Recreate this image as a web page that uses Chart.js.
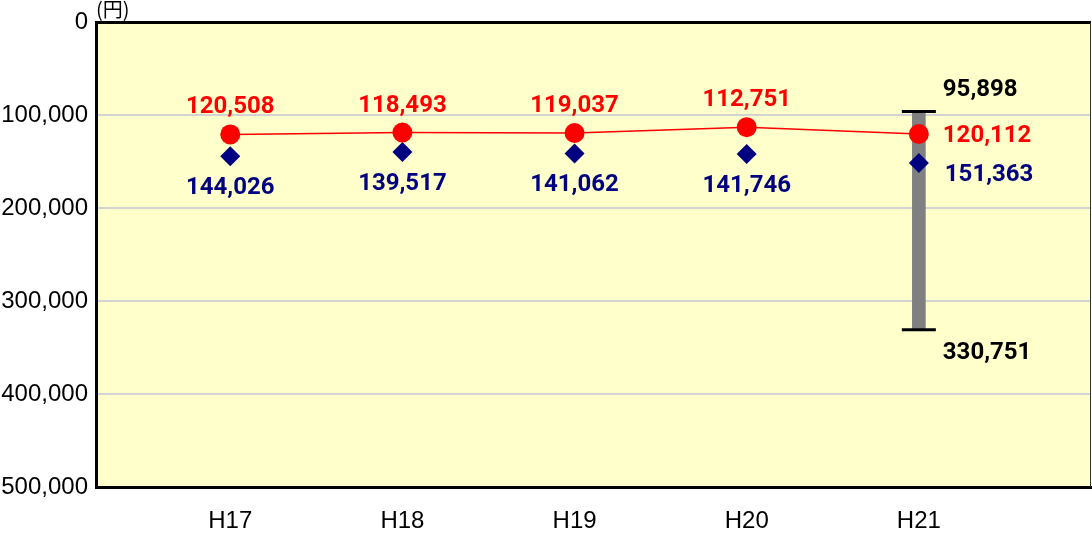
<!DOCTYPE html>
<html lang="ja">
    <head>
        <meta charset="UTF-8">
        <title>H17-H21</title>
        <script src="https://cdn.jsdelivr.net/npm/chart.js@4/dist/chart.umd.min.js"></script>
        <style>
            html, body { margin: 0; padding: 0; background: #fff; }
            .contenitore { width: 1092px; height: 545px; }
        </style>
    </head>
    <body>
        <div class="contenitore">
            <canvas id="myChart" width="1092" height="545"></canvas>
        </div>
    </body>
    <script>
        // dati
        const anni = ["H17", "H18", "H19", "H20", "H21"];
        const valoriRossi = [120508, 118493, 119037, 112751, 120112];
        const valoriBlu = [144026, 139517, 141062, 141746, 151363];
        const rangeH21 = [95898, 330751];
        const yTicks = [0, 100000, 200000, 300000, 400000, 500000];

        const ultimo = anni.length - 1;
        const fmt = v => v.toLocaleString("en-US");

        // sfondo e bordi dell'area del grafico
        const areaPlugin = {
            id: "area",
            beforeDraw(chart) {
                const {ctx, chartArea: a} = chart;
                ctx.save();
                ctx.fillStyle = "#FFFFCC";
                ctx.fillRect(a.left, a.top, a.right - a.left, a.bottom - a.top);
                ctx.restore();
            },
            afterDraw(chart) {
                const {ctx, chartArea: a} = chart;
                ctx.save();
                ctx.strokeStyle = "#000";
                ctx.lineWidth = 3;
                ctx.beginPath();
                ctx.moveTo(a.left, a.top);
                ctx.lineTo(a.right, a.top);
                ctx.stroke();
                ctx.lineWidth = 1;
                ctx.strokeStyle = "#333";
                ctx.beginPath();
                ctx.moveTo(a.right - 0.5, a.top);
                ctx.lineTo(a.right - 0.5, a.bottom);
                ctx.stroke();
                ctx.fillStyle = "#000";
                ctx.font = "20px 'Noto Sans CJK JP'";
                ctx.textAlign = "left";
                ctx.textBaseline = "alphabetic";
                ctx.fillText("(円)", a.left, a.top - 5);
                ctx.restore();
            }
        };

        // etichette dei valori
        const etichettePlugin = {
            id: "etichette",
            afterDatasetsDraw(chart) {
                const ctx = chart.ctx;
                ctx.save();
                ctx.font = "bold 24px Roboto";
                ctx.textBaseline = "middle";
                const rossi = chart.getDatasetMeta(3).data;
                const blu = chart.getDatasetMeta(2).data;
                const caps = chart.getDatasetMeta(1).data;
                rossi.forEach((p, i) => {
                    ctx.fillStyle = "#FF0000";
                    if (i === ultimo) {
                        ctx.textAlign = "left";
                        ctx.fillText(fmt(valoriRossi[i]), p.x + 24, p.y + 2);
                    } else {
                        ctx.textAlign = "center";
                        ctx.fillText(fmt(valoriRossi[i]), p.x, p.y - 27);
                    }
                });
                blu.forEach((p, i) => {
                    ctx.fillStyle = "#000080";
                    if (i === ultimo) {
                        ctx.textAlign = "left";
                        ctx.fillText(fmt(valoriBlu[i]), p.x + 26, p.y + 12);
                    } else {
                        ctx.textAlign = "center";
                        ctx.fillText(fmt(valoriBlu[i]), p.x, p.y + 32);
                    }
                });
                ctx.fillStyle = "#000";
                ctx.textAlign = "left";
                caps.forEach((p, i) => {
                    const dy = i === 0 ? -22 : 23;
                    ctx.fillText(fmt(rangeH21[i]), p.x + 24, p.y + dy);
                });
                ctx.restore();
            }
        };

        new Chart("myChart", {
            data: {
                datasets: [
                    {
                        type: "bar",
                        data: [{x: ultimo, y: rangeH21}],
                        backgroundColor: "#808080",
                        barThickness: 13,
                        order: 4
                    },
                    {
                        type: "scatter",
                        data: rangeH21.map(v => ({x: ultimo, y: v})),
                        pointStyle: "line",
                        pointRadius: 17,
                        borderColor: "#000",
                        borderWidth: 3,
                        order: 3
                    },
                    {
                        type: "scatter",
                        data: valoriBlu.map((v, i) => ({x: i, y: v})),
                        pointStyle: "rectRot",
                        pointRadius: 10,
                        backgroundColor: "#000080",
                        borderColor: "#000080",
                        borderWidth: 0,
                        order: 2
                    },
                    {
                        type: "line",
                        data: valoriRossi.map((v, i) => ({x: i, y: v})),
                        borderColor: "#FF0000",
                        borderWidth: 1.5,
                        pointStyle: "circle",
                        pointRadius: 10,
                        backgroundColor: "#FF0000",
                        pointBorderWidth: 0,
                        tension: 0,
                        order: 1
                    }
                ]
            },
            options: {
                responsive: false,
                animation: false,
                layout: {autoPadding: false, padding: {top: 21, right: 1, left: 0, bottom: 0}},
                plugins: {legend: {display: false}, tooltip: {enabled: false}},
                scales: {
                    x: {
                        type: "linear",
                        offset: false,
                        min: -0.78,
                        max: 5,
                        afterBuildTicks: s => { s.ticks = anni.map((a, i) => ({value: i})); },
                        afterFit: s => { s.height = 58; },
                        grid: {display: false, drawTicks: false, offset: false},
                        border: {display: true, color: "#000", width: 3},
                        ticks: {
                            callback: v => anni[v] || "",
                            color: "#000",
                            padding: 20,
                            maxRotation: 0,
                            font: {family: "'Liberation Sans'", size: 24}
                        }
                    },
                    y: {
                        reverse: true,
                        min: 0,
                        max: 500000,
                        afterBuildTicks: s => { s.ticks = yTicks.map(v => ({value: v})); },
                        afterFit: s => { s.width = 96; },
                        grid: {color: "#D3D3D3", lineWidth: 2, drawTicks: false},
                        border: {display: true, color: "#000", width: 3},
                        ticks: {
                            callback: v => fmt(v),
                            color: "#000",
                            padding: 8,
                            font: {family: "'Liberation Sans'", size: 24}
                        }
                    }
                }
            },
            plugins: [areaPlugin, etichettePlugin]
        });
    </script>
</html>
